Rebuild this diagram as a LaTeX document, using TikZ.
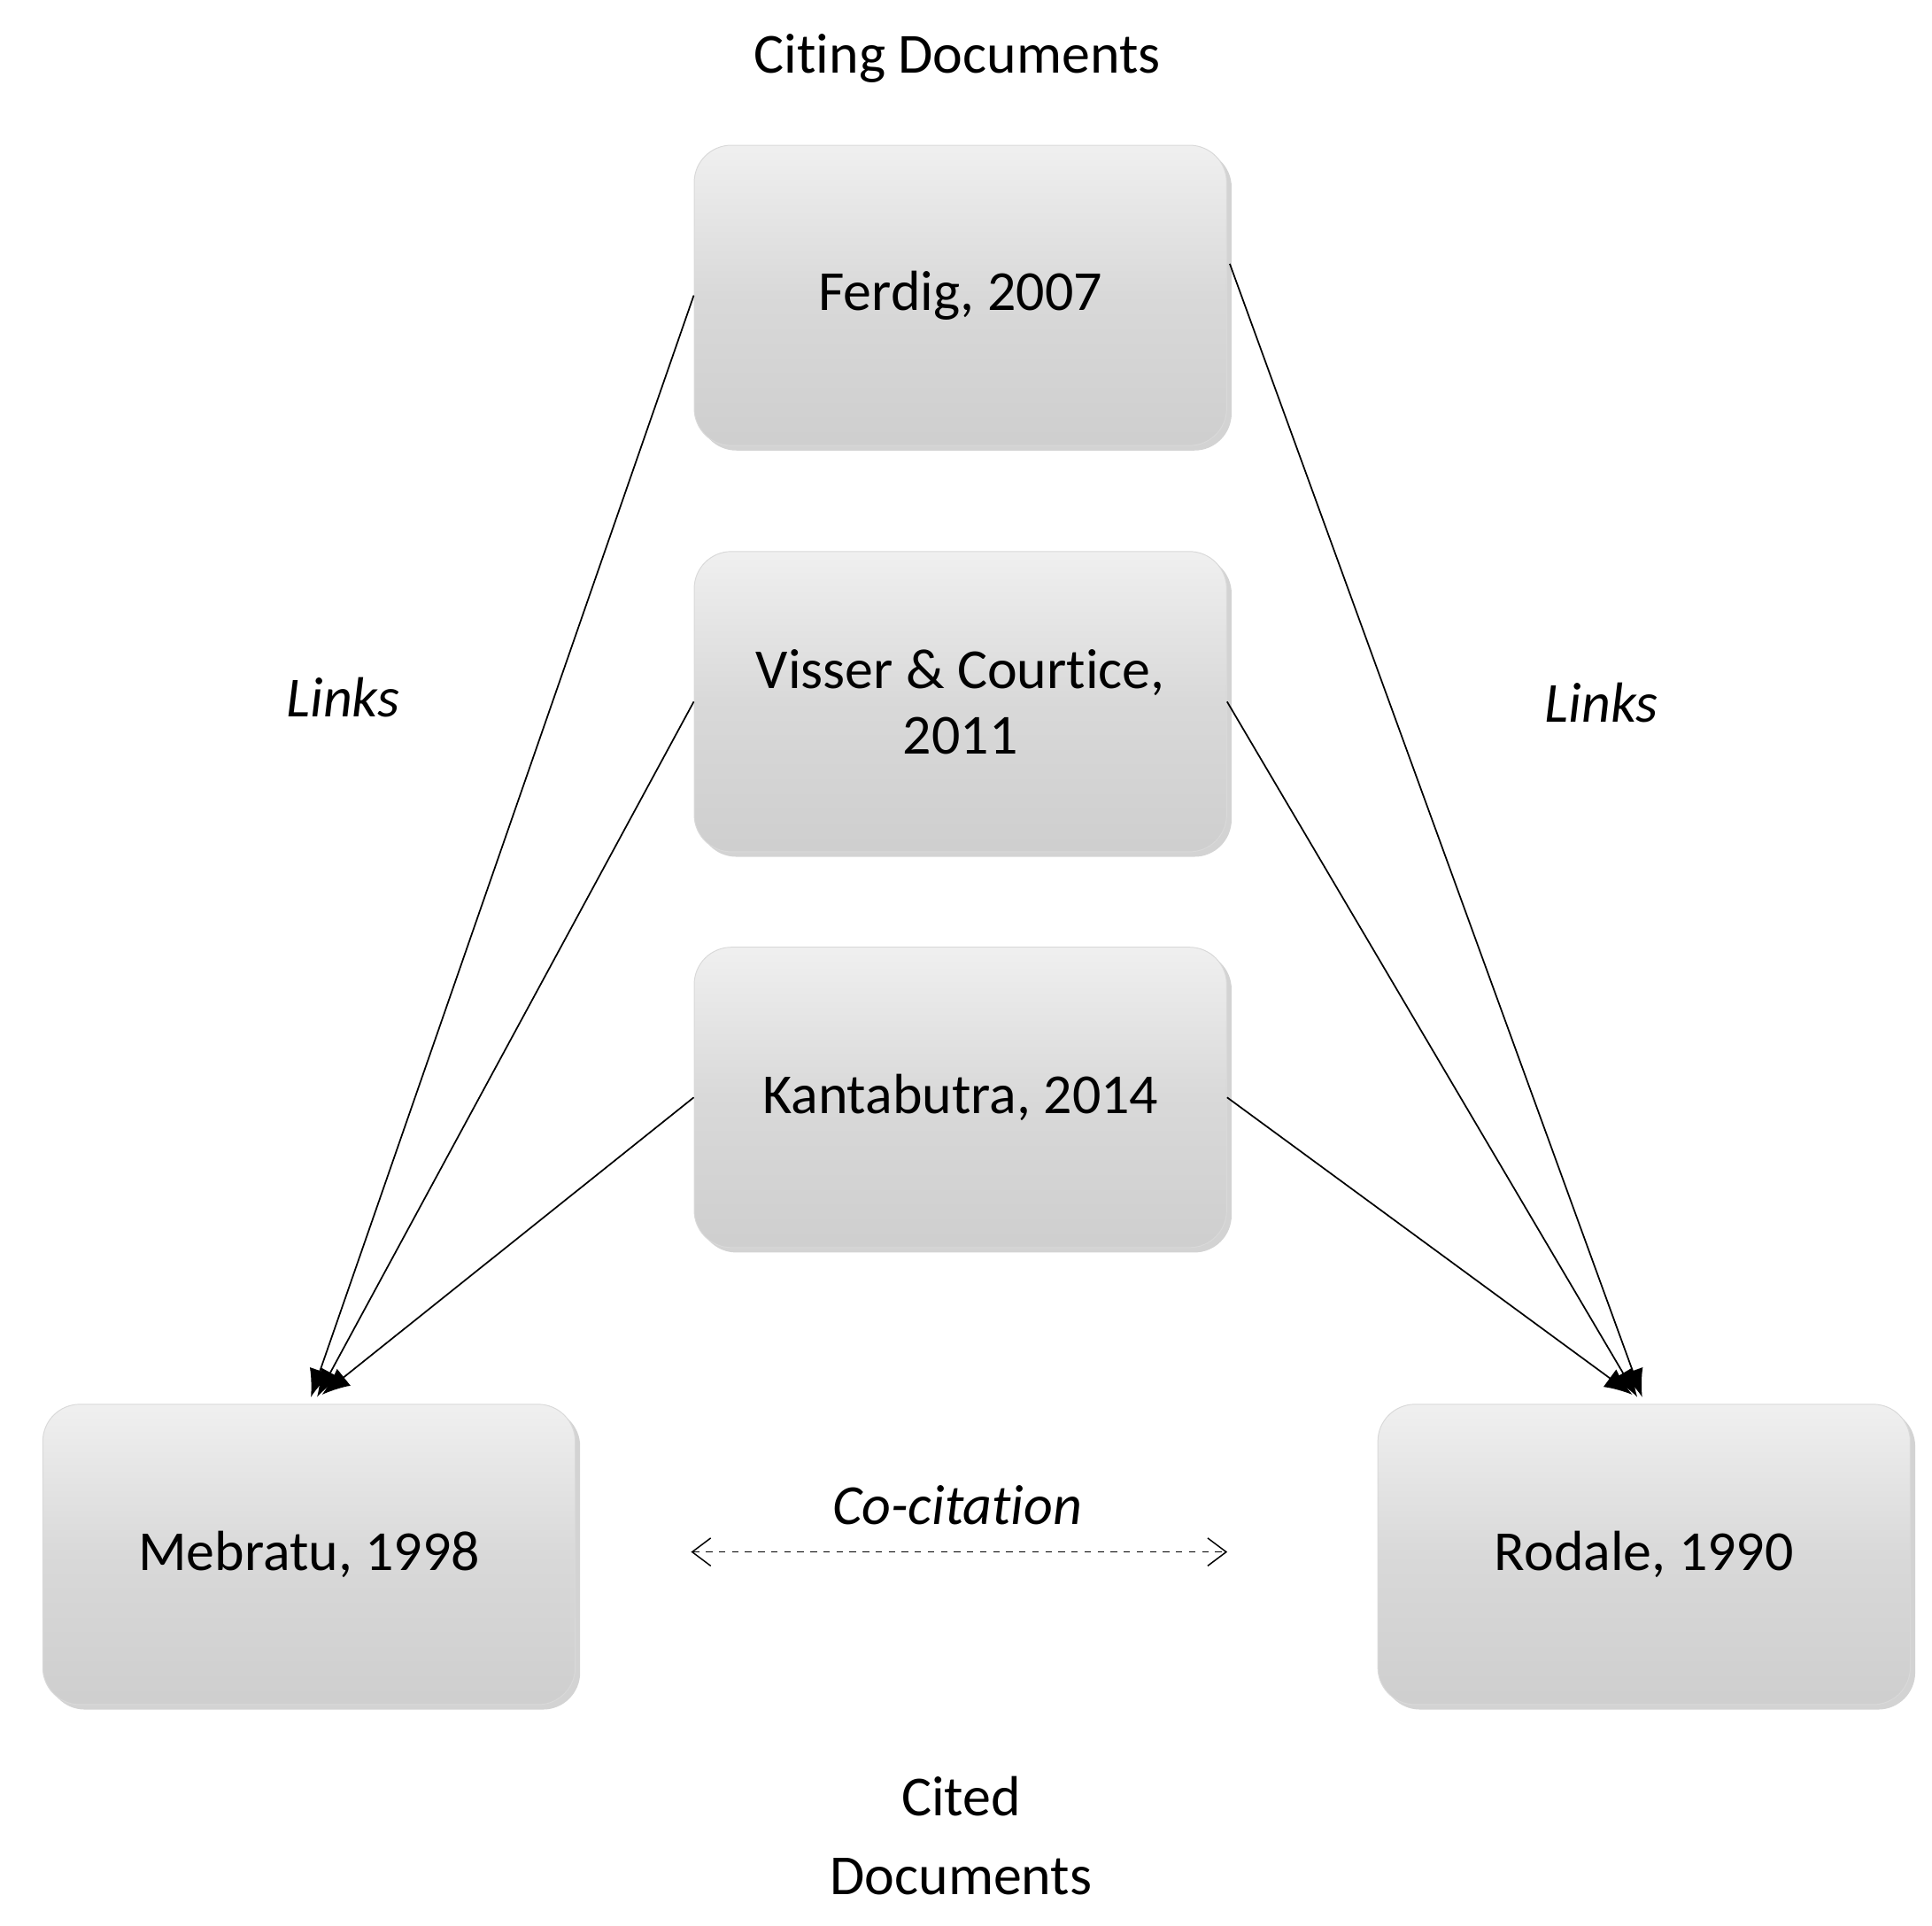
\documentclass[tikz,border=0pt]{standalone}
\usepackage{fontspec}
\setmainfont{Carlito}[Ligatures={NoCommon,NoRare,NoDiscretionary}]
\usetikzlibrary{shadows,arrows.meta}
\begin{document}
\begin{tikzpicture}[x=0.02cm,y=-0.02cm,
  box/.style={draw=gray!30,rounded corners=0.6cm,minimum width=8.6cm,minimum height=4.85cm,
    top color=gray!12,bottom color=gray!38,middle color=gray!30,
    drop shadow={shadow xshift=0.08cm,shadow yshift=-0.08cm,opacity=0.35},
    align=center,font=\fontsize{26}{30}\selectfont},
  lbl/.style={font=\fontsize{26}{36}\selectfont,align=center},
  arr/.style={-{Latex[length=0.45cm,width=0.35cm]},line width=0.7pt}]
\useasboundingbox (0,0) rectangle (1560,1555);
\node[box] (f) at (775.5,238.5) {Ferdig, 2007};
\node[box] (v) at (775.5,566.5) {Visser \& Courtice,\\2011};
\node[box] (k) at (775.5,886) {Kantabutra, 2014};
\node[box] (m) at (249.5,1255) {Mebratu, 1998};
\node[box] (r) at (1327.5,1255) {Rodale, 1990};
\node[lbl] (t1) at (773,47) {Citing Documents};
\node[lbl] (t2) at (776,1482) {Cited\\Documents};
\node[lbl,font=\fontsize{26}{36}\selectfont\itshape] (l1) at (277,563) {Links};
\node[lbl,font=\fontsize{26}{36}\selectfont\itshape] (l2) at (1293,567) {Links};
\node[lbl,font=\fontsize{26}{36}\selectfont\itshape] (cc) at (773,1215) {Co-citation};
\coordinate (fr) at (993,213);
\coordinate (m1) at (251,1128);
\coordinate (m2) at (256,1128);
\coordinate (m3) at (260,1126);
\coordinate (r1) at (1326,1128);
\coordinate (r2) at (1322,1128);
\coordinate (r3) at (1318,1126);
\coordinate (ca) at (558,1253);
\coordinate (cb) at (991,1253);
\draw[arr] (f.west) -- (m1);
\draw[arr] (v.west) -- (m2);
\draw[arr] (k.west) -- (m3);
\draw[arr] (fr) -- (r1);
\draw[arr] (v.east) -- (r2);
\draw[arr] (k.east) -- (r3);
\draw[{Straight Barb[length=0.3cm,width=0.45cm]}-{Straight Barb[length=0.3cm,width=0.45cm]},dashed,line width=0.6pt] (ca) -- (cb);
\end{tikzpicture}
\end{document}
